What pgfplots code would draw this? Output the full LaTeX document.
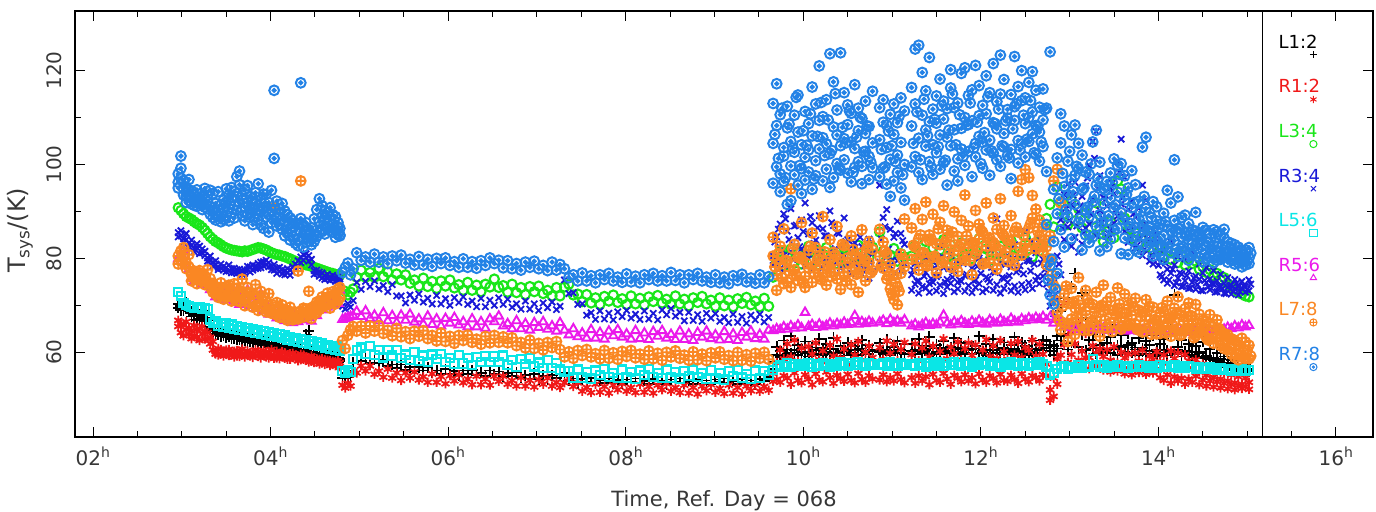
\documentclass[border=0pt]{standalone}
\usepackage{pgfplots}
\pgfplotsset{compat=1.18}
\usepackage{pgfplotstable}
\usepackage{fontspec}
\setmainfont{DejaVu Sans}
\usetikzlibrary{plotmarks}
\definecolor{cK}{RGB}{0,0,0}
\definecolor{cR}{RGB}{240,25,25}
\definecolor{cG}{RGB}{25,230,25}
\definecolor{cB}{RGB}{25,25,215}
\definecolor{cC}{RGB}{10,230,230}
\definecolor{cM}{RGB}{235,25,235}
\definecolor{cO}{RGB}{250,135,35}
\definecolor{cL}{RGB}{35,130,230}
\definecolor{txt}{RGB}{55,55,55}
\pgfdeclareplotmark{odot}{%
  \pgfpathcircle{\pgfpointorigin}{\pgfplotmarksize}\pgfusepathqstroke
  \pgfpathcircle{\pgfpointorigin}{0.3\pgfplotmarksize}\pgfusepathqstroke}
\pgfplotsset{
  sK/.style={only marks, mark=+, color=cK, mark size=5.5pt, mark options={line width=1.8pt}},
  sR/.style={only marks, mark=asterisk, color=cR, mark size=4.6pt, mark options={line width=1.8pt}},
  sG/.style={only marks, mark=o, color=cG, mark size=4.6pt, mark options={line width=2.1pt}},
  sB/.style={only marks, mark=x, color=cB, mark size=4.4pt, mark options={line width=1.8pt}},
  sC/.style={only marks, mark=square, color=cC, mark size=4.1pt, mark options={line width=2.1pt}},
  sM/.style={only marks, mark=triangle, color=cM, mark size=4.9pt, mark options={line width=1.9pt}},
  sO/.style={only marks, mark=oplus, color=cO, mark size=4.9pt, mark options={line width=1.9pt}},
  sL/.style={only marks, mark=odot, color=cL, mark size=4.9pt, mark options={line width=2.0pt}},
}
% noisy parts: t k1 k2 r1 r2 g b1 b2 c m o1 o2 l1 l2 l3
\pgfplotstableread{
t k1 k2 r1 r2 g b1 b2 c m o1 o2 l1 l2 l3
2.96 69.5 70.2 65.5 66.8 90.8 85.5 84.6 72.8 79.9 80.5 78.8 98.0 96.2 95.0
2.99 69.0 69.8 64.2 66.0 90.2 84.8 85.9 72.0 81.0 81.6 79.4 101.8 99.2 97.1
3.02 70.1 68.9 65.8 63.5 89.5 84.2 83.5 70.5 81.7 82.3 80.2 96.5 94.8 93.5
3.05 69.3 70.5 66.5 64.8 88.9 85.3 84.0 70.0 78.4 79.0 77.8 95.2 93.3 91.9
3.08 68.8 69.6 63.8 65.2 88.6 83.2 82.5 69.8 77.6 78.2 80.8 94.6 92.4 96.8
3.11 67.6 68.4 64.6 62.9 88.3 82.8 83.9 69.6 75.9 76.5 75.2 92.9 91.6 94.3
3.14 67.0 67.9 65.7 63.6 87.8 82.0 81.4 69.5 75.2 75.8 77.3 93.5 91.3 92.2
3.17 67.8 66.9 63.2 64.8 87.4 83.1 82.3 69.4 76.3 76.9 74.6 92.2 94.6 91.1
3.20 67.2 68.0 65.0 62.5 87.1 82.6 81.0 69.6 76.8 77.4 75.5 93.7 91.8 92.8
3.23 66.8 67.5 63.9 65.5 86.6 81.2 82.0 69.3 74.5 75.1 76.8 91.5 93.2 90.4
3.26 67.4 66.6 64.5 62.8 86.0 80.6 81.5 69.5 75.6 76.2 74.4 94.9 92.6 90.9
3.29 67.9 66.9 63.0 64.2 85.3 80.1 79.4 69.2 74.2 74.8 77.6 92.1 90.6 93.4
3.32 65.4 64.9 61.8 63.2 84.6 79.6 80.5 67.0 73.3 73.9 75.7 91.0 89.4 94.5
3.35 64.5 64.0 60.5 62.3 84.1 79.2 78.4 66.3 74.0 74.6 72.8 93.8 90.2 88.7
3.38 64.6 63.7 60.2 59.6 83.6 78.6 79.5 66.6 71.8 72.4 74.0 91.7 89.6 88.2
3.41 64.2 63.8 60.8 59.4 83.3 78.1 77.6 65.7 72.9 73.5 71.7 90.3 94.2 88.9
3.44 64.4 63.4 59.7 60.6 82.9 78.8 77.9 66.3 71.4 72.0 74.8 89.5 91.4 87.8
3.47 63.9 63.5 60.3 59.2 82.5 77.5 78.3 65.4 72.6 73.2 71.3 92.4 88.3 90.7
3.50 64.1 63.2 59.5 60.5 82.2 78.0 77.2 66.1 71.2 71.8 73.9 94.8 92.0 89.2
3.53 63.6 63.3 60.6 59.3 82.0 77.3 78.6 65.2 73.7 74.3 72.2 90.6 93.5 88.0
3.56 63.8 62.9 59.4 60.1 81.8 77.8 76.9 65.9 72.1 72.7 70.9 92.9 89.7 95.1
3.59 63.4 63.0 60.2 59.0 81.7 77.0 77.9 65.0 70.9 71.5 74.6 91.3 94.3 88.6
3.62 63.6 62.7 59.2 60.4 81.6 77.6 76.8 65.6 73.0 73.6 71.0 97.4 93.1 90.2
3.65 63.2 62.8 60.0 59.1 81.5 76.9 77.7 64.8 70.2 70.8 73.1 95.7 98.6 91.8
3.68 63.3 62.4 59.6 60.7 81.4 77.4 76.6 65.4 72.3 72.9 75.6 93.4 89.1 92.5
3.71 62.9 62.5 59.0 59.8 81.6 76.8 77.5 64.6 70.6 71.2 69.9 94.7 90.8 88.0
3.74 63.1 62.2 60.3 59.3 81.5 77.6 78.3 65.2 73.2 73.8 71.9 91.9 95.5 89.4
3.77 62.7 62.3 59.2 60.0 81.7 78.2 77.1 64.4 69.9 70.5 72.6 93.2 88.7 90.6
3.80 62.9 62.0 59.7 58.9 81.9 77.5 78.6 65.0 71.7 72.3 69.6 90.4 92.8 87.2
3.83 62.4 62.1 60.5 59.4 82.1 78.4 77.8 64.2 69.3 69.9 74.4 94.0 89.6 91.6
3.86 62.6 61.7 59.1 60.2 82.3 78.9 77.9 64.8 71.0 71.6 68.9 95.9 91.2 88.4
3.89 62.2 61.8 59.6 58.8 82.2 78.0 79.2 63.9 72.4 73.0 70.4 92.5 89.9 87.1
3.92 62.4 61.5 60.4 59.5 82.0 79.3 78.4 64.5 68.8 69.4 71.8 90.9 93.7 86.4
3.95 61.9 61.6 59.0 60.1 81.8 78.6 79.6 63.7 70.2 70.8 68.6 93.6 88.8 91.0
3.98 62.1 61.2 59.8 58.8 81.5 79.1 78.2 64.3 68.1 68.7 72.5 89.4 91.9 85.6
4.01 61.7 61.3 60.6 59.4 81.2 78.3 77.6 63.5 69.6 70.2 68.3 94.5 87.6 90.3
4.04 61.9 61.0 59.3 58.7 81.0 77.5 78.7 64.0 68.4 69.0 90.8 101.3 115.8 89.2
4.07 61.4 61.1 58.8 60.2 80.8 77.9 76.8 63.2 67.3 67.9 70.6 92.2 88.5 86.9
4.10 61.6 60.7 59.6 58.6 80.7 77.2 78.1 63.8 68.9 69.5 67.4 90.6 87.3 89.5
4.13 61.2 60.8 60.1 59.1 80.5 76.7 77.6 63.0 67.6 68.2 70.1 91.7 86.2 88.4
4.16 61.4 60.5 58.7 59.9 80.4 77.4 76.5 63.6 66.7 67.3 69.1 87.9 90.1 84.8
4.19 60.9 60.6 59.5 58.5 80.1 76.9 77.8 62.7 68.3 68.9 66.8 89.3 85.5 87.0
4.22 61.1 60.2 58.5 59.7 79.9 77.5 76.4 63.3 67.0 67.6 69.6 86.4 88.6 83.9
4.25 60.7 60.3 59.8 58.9 79.6 78.2 77.0 62.5 66.3 66.9 68.4 88.1 84.6 86.8
4.28 60.9 60.0 58.6 59.4 79.4 78.8 77.6 63.1 67.9 68.5 67.2 85.9 87.4 83.2
4.31 60.5 60.1 59.2 58.2 79.1 79.5 78.4 62.3 66.5 67.1 77.3 87.2 84.1 82.7
4.34 60.6 59.7 58.4 59.6 78.9 80.3 79.1 62.8 68.2 68.8 96.5 117.4 85.6 88.5
4.37 60.2 59.8 59.4 58.5 78.7 80.8 79.6 62.0 66.9 67.5 69.4 84.3 86.9 82.4
4.40 60.4 63.8 58.3 59.0 78.6 80.2 81.0 62.6 68.6 69.2 67.7 85.8 83.4 87.6
4.43 60.0 64.6 58.9 57.9 78.5 79.4 80.6 61.8 67.4 68.0 73.0 83.7 86.1 84.9
4.46 60.1 59.2 58.1 59.2 78.3 78.6 79.8 62.4 66.6 67.2 69.5 86.5 84.2 82.9
4.49 59.7 59.3 58.8 57.8 78.1 77.4 76.6 61.5 69.2 69.8 68.2 88.4 85.1 83.6
4.52 59.9 59.0 57.9 58.6 77.9 76.8 77.5 62.1 67.8 68.4 70.7 86.0 90.4 84.7
4.55 59.5 59.1 58.5 57.5 77.7 76.2 77.1 61.3 70.3 70.9 69.1 92.7 87.8 85.5
4.58 59.7 58.8 57.7 58.6 77.5 76.9 75.8 61.9 69.0 69.6 71.8 91.2 86.3 89.0
4.61 59.2 58.9 58.4 57.4 77.3 76.3 75.5 61.0 70.7 71.3 70.0 88.6 90.1 85.2
4.64 59.4 58.5 57.6 58.3 77.1 75.7 76.6 61.6 69.6 70.2 72.6 89.7 86.5 87.4
4.67 59.0 58.6 58.2 57.2 76.9 76.1 75.3 60.8 71.3 71.9 69.4 90.8 88.2 85.9
4.70 59.2 58.3 57.4 58.1 76.8 75.5 76.4 61.4 70.1 70.7 72.9 87.1 89.3 85.6
4.73 58.7 58.4 58.0 57.1 76.6 75.9 75.1 60.6 71.8 72.4 70.3 88.9 86.0 84.5
4.76 58.9 58.0 57.3 58.2 76.5 75.2 76.0 61.2 70.4 71.0 73.5 86.7 85.3 87.6
4.78 58.5 58.1 57.8 56.9 76.4 75.6 74.9 60.4 73.2 73.8 71.6 84.8 86.4 85.0
9.66 56.5 58.0 55.5 53.8 76.0 78.5 80.5 56.2 64.6 80.5 84.5 113.0 104.5 96.0
9.70 59.5 61.2 57.8 54.2 79.2 84.6 79.0 56.8 65.0 76.5 73.2 117.2 108.3 99.5
9.74 60.2 59.0 60.5 53.6 81.5 87.3 77.8 57.3 64.8 78.8 82.6 98.0 110.6 94.2
9.78 59.2 62.5 58.6 55.0 78.4 89.5 80.6 57.0 65.4 74.6 86.3 103.6 96.4 101.8
9.82 60.6 59.6 61.8 54.5 80.6 85.8 78.2 57.6 64.9 79.5 75.0 107.8 91.5 112.4
9.86 59.8 63.4 59.0 53.2 82.0 90.6 81.4 56.9 65.6 73.8 94.8 99.7 104.9 92.3
9.90 60.4 59.3 62.6 55.6 79.0 86.9 76.9 57.4 65.1 77.6 83.0 110.5 97.8 102.6
9.94 59.5 61.6 58.1 54.0 81.2 84.4 79.8 57.1 65.8 75.3 80.2 95.6 106.9 114.8
9.98 60.8 60.0 60.9 53.5 78.8 88.2 82.0 57.5 65.2 79.9 87.6 104.2 99.1 93.8
10.02 59.9 62.3 57.6 55.2 80.3 91.8 78.5 57.2 68.5 76.2 73.8 111.3 101.5 96.7
10.06 60.1 59.1 61.2 54.3 82.6 85.2 80.9 57.6 65.5 81.7 77.9 98.4 108.7 103.1
10.10 59.4 61.0 59.6 53.1 79.5 87.6 77.3 56.9 65.9 74.9 85.4 106.1 94.7 116.5
10.14 60.5 60.4 62.0 55.4 81.8 83.9 79.4 57.4 65.3 78.4 82.3 100.8 112.9 97.6
10.18 59.7 62.9 58.4 54.1 78.6 89.1 81.6 57.1 66.0 80.6 76.1 109.4 103.3 121.0
10.22 60.9 59.5 60.3 53.7 80.9 86.3 78.0 57.7 65.4 76.8 88.9 96.5 105.7 110.2
10.26 60.0 61.8 57.9 55.8 82.3 84.8 80.2 57.3 65.7 79.2 74.3 113.8 99.0 104.4
10.30 59.6 60.7 61.5 54.6 79.8 90.1 77.6 57.0 66.2 77.1 84.0 102.3 123.6 95.1
10.34 60.7 63.1 59.2 53.4 81.0 87.0 81.1 57.5 65.6 81.3 79.4 108.0 97.2 117.6
10.38 59.8 59.8 62.8 55.1 78.9 85.5 79.3 57.2 66.1 75.6 86.8 100.2 111.6 106.3
10.42 60.3 61.4 58.8 54.4 80.5 82.7 77.9 57.8 65.8 79.8 73.4 123.8 104.0 98.8
10.46 59.3 60.2 60.7 53.8 82.2 88.6 80.5 57.4 66.4 76.3 82.7 105.5 115.3 101.0
10.50 60.6 62.0 57.4 55.3 79.2 84.0 78.7 57.1 65.9 80.1 77.0 98.1 108.5 112.7
10.54 59.9 59.4 61.6 54.0 81.6 81.6 76.8 57.6 66.3 74.4 84.8 110.9 96.3 104.8
10.58 60.4 61.3 59.4 53.5 80.0 83.3 79.6 57.3 67.8 78.0 80.8 103.4 117.0 99.4
10.62 59.5 60.5 62.3 55.5 82.8 80.2 78.1 57.9 66.0 76.9 72.8 107.2 100.6 112.0
10.66 60.8 62.6 58.3 54.2 79.6 82.5 76.5 57.5 66.5 81.2 86.1 99.6 109.8 95.9
10.70 60.2 59.7 60.0 53.6 81.3 79.4 77.7 57.2 66.1 75.2 79.7 113.5 102.8 106.6
10.74 59.6 61.5 61.3 55.0 80.2 84.1 75.8 57.7 66.6 79.1 83.6 96.8 108.1 101.7
10.78 60.5 60.3 58.9 54.3 82.4 81.0 77.2 57.4 66.2 77.4 81.9 104.6 99.3 115.6
10.86 60.0 61.9 61.0 54.1 85.6 95.6 79.2 57.3 66.4 80.4 86.2 105.3 112.1 97.4
10.90 59.7 60.4 58.5 55.2 81.5 88.7 77.6 57.6 66.8 77.9 83.5 99.2 109.0 113.8
10.94 60.6 62.7 62.4 53.7 79.8 90.4 80.3 57.2 66.1 75.6 81.0 103.6 95.8 108.4
10.98 59.4 60.1 59.8 54.6 80.7 86.2 78.4 57.8 67.0 73.5 78.6 110.7 101.1 93.2
11.02 60.3 61.2 61.7 53.9 82.1 84.5 76.9 57.4 66.3 71.2 76.4 96.5 106.4 112.9
11.06 59.8 62.4 58.2 55.4 79.4 87.9 79.5 57.1 66.7 70.1 74.0 102.0 98.3 108.9
11.10 60.5 59.9 60.6 54.2 81.0 85.3 77.3 57.6 66.2 76.8 80.9 104.7 114.2 95.0
11.14 59.6 61.7 62.1 53.5 80.3 83.0 78.8 57.3 66.9 78.2 88.4 111.4 100.0 92.4
11.22 60.2 61.8 59.5 54.6 80.5 76.5 73.2 57.4 65.6 79.8 86.5 108.2 99.5 116.4
11.26 59.7 60.5 61.8 53.4 82.7 78.9 74.5 57.1 66.0 82.4 90.6 101.7 112.9 124.6
11.30 60.6 62.9 58.2 55.0 79.4 75.2 72.6 57.7 65.4 77.5 84.2 125.4 105.6 98.3
11.34 59.9 60.0 60.9 53.9 81.3 80.4 74.0 57.3 65.9 81.1 88.3 110.5 96.8 119.6
11.38 60.4 61.4 62.4 54.8 83.6 77.0 73.7 57.0 66.3 78.6 92.0 103.9 115.7 107.4
11.42 59.5 63.3 59.0 53.1 80.1 74.6 72.8 57.6 65.7 83.8 85.0 122.8 109.1 100.6
11.46 60.8 59.6 61.3 55.3 82.2 79.3 74.9 57.2 66.1 80.2 89.4 97.9 111.8 104.2
11.50 60.1 61.6 57.8 54.0 79.7 76.1 73.1 57.8 65.8 76.9 83.1 114.6 102.5 108.8
11.54 59.6 60.9 60.2 53.6 81.8 82.6 74.3 57.4 66.4 82.9 87.7 106.3 118.2 99.0
11.58 60.7 62.4 62.9 55.5 84.0 78.0 72.5 57.1 67.9 79.4 91.2 100.4 109.7 113.5
11.62 59.8 60.2 58.6 54.3 80.4 75.5 73.9 57.7 66.2 84.5 86.0 111.9 95.6 105.8
11.66 60.3 61.1 61.1 53.2 82.9 80.9 74.7 57.3 65.8 78.1 82.8 104.0 116.3 120.2
11.70 59.4 63.0 59.7 55.1 79.1 77.4 72.9 57.9 66.5 81.6 89.9 98.6 107.4 112.1
11.74 60.9 60.6 62.2 54.5 81.5 74.9 73.5 57.5 66.0 77.2 84.7 113.1 101.2 96.5
11.78 60.0 61.9 58.4 53.7 83.3 79.7 75.1 57.2 66.7 83.0 88.1 107.7 119.4 103.3
11.82 59.7 59.9 60.8 55.2 80.8 76.3 73.0 57.8 66.2 79.6 93.5 120.6 110.0 99.8
11.86 60.5 62.2 62.0 53.9 82.5 83.5 74.2 57.4 65.9 82.2 86.9 102.8 114.7 108.5
11.90 59.6 60.7 59.3 54.6 79.9 77.9 72.7 57.0 66.6 76.5 83.4 109.3 97.4 115.9
11.94 60.8 61.3 61.6 53.3 81.9 75.4 73.8 57.6 66.1 80.9 90.2 104.5 121.1 101.6
11.98 59.9 63.4 58.0 55.4 84.2 80.1 74.6 57.3 66.8 84.1 87.3 116.8 106.0 110.4
12.02 60.2 60.1 60.5 54.1 80.6 78.5 72.9 57.9 66.3 78.8 85.6 99.2 112.6 104.7
12.06 59.5 61.7 62.7 53.6 82.0 76.0 73.4 57.5 66.0 82.6 91.8 110.8 103.1 118.9
12.10 60.6 60.4 59.1 55.0 79.6 81.8 75.0 57.2 66.9 79.0 84.4 105.2 115.3 97.7
12.14 59.8 62.8 61.4 54.4 83.1 77.2 73.2 57.7 66.4 83.4 88.6 121.5 108.9 102.4
12.18 60.4 61.0 58.7 53.5 80.9 88.4 74.4 57.4 66.2 77.7 86.2 101.0 113.4 107.6
12.22 59.7 59.8 62.5 55.3 82.6 79.0 72.6 57.0 67.0 81.8 92.7 115.0 99.6 123.3
12.26 60.9 62.1 60.1 54.0 79.8 75.7 73.6 57.6 66.5 84.8 87.0 106.6 118.1 103.7
12.30 60.0 60.5 58.5 53.8 81.7 80.6 74.9 57.3 66.3 79.3 83.9 111.7 101.9 109.9
12.34 59.6 61.6 61.9 55.1 83.8 78.2 73.1 57.9 67.2 82.9 89.1 103.2 114.9 97.0
12.38 60.7 63.2 59.4 54.2 80.4 82.9 74.1 57.5 66.6 78.5 85.8 123.0 109.4 112.3
12.42 59.9 60.3 62.3 53.4 82.3 77.6 72.8 57.2 66.4 85.6 94.3 100.3 116.6 105.1
12.46 60.3 62.0 58.9 55.4 81.1 80.2 74.4 57.7 67.1 80.7 96.8 113.6 104.4 120.0
12.50 59.5 61.4 61.0 54.3 84.5 85.7 73.3 57.4 66.7 83.1 98.9 108.7 101.6 114.2
12.54 60.6 59.7 60.4 53.7 82.0 79.4 74.8 57.1 67.3 86.4 97.2 104.9 117.5 110.0
12.58 60.1 62.5 62.6 55.0 80.3 83.6 73.6 57.6 66.9 88.6 93.4 111.2 106.5 119.8
12.62 59.8 60.8 59.2 54.6 83.4 81.2 75.3 57.3 67.4 82.0 90.5 102.1 115.8 108.3
12.66 60.4 61.5 61.7 53.9 81.6 84.2 74.6 57.8 67.0 84.7 88.2 106.9 112.2 100.7
12.70 60.9 62.6 59.6 55.2 82.8 79.8 76.2 57.5 67.6 81.5 86.7 109.5 103.8 116.1
12.74 61.0 62.3 57.5 55.0 88.5 78.0 74.5 57.0 66.8 82.5 78.6 98.5 87.2 112.0
12.78 60.2 61.6 52.0 49.8 91.5 72.4 69.8 55.2 67.5 79.6 84.8 78.5 72.2 124.0
12.82 61.4 59.5 54.5 50.6 86.7 74.8 68.2 55.6 66.2 74.2 96.5 70.3 83.6 94.7
12.86 60.8 63.5 58.6 53.2 95.3 80.5 71.2 56.4 67.0 68.5 99.0 76.8 89.5 101.4
12.90 62.5 68.8 66.8 59.4 92.0 88.2 76.5 56.8 66.4 64.8 91.8 86.1 104.6 110.8
12.94 64.0 71.5 70.5 61.6 89.4 93.6 84.0 57.1 65.6 72.5 66.2 95.3 82.4 108.2
12.98 60.6 66.2 63.4 57.8 87.2 86.7 95.8 56.5 65.9 70.4 62.3 100.7 88.9 93.5
13.02 62.0 74.0 59.5 64.2 92.4 91.4 82.6 56.9 65.3 67.1 73.6 84.2 96.8 106.3
13.06 65.5 76.8 61.8 57.2 88.0 84.5 96.2 56.6 65.0 63.8 69.4 91.5 108.4 97.7
13.10 61.1 70.2 66.1 58.3 90.6 89.9 81.3 57.2 64.8 71.0 75.9 99.1 87.6 104.5
13.14 63.8 72.6 60.2 57.0 86.5 83.1 93.2 56.7 65.2 65.9 68.1 81.8 94.6 102.0
13.18 60.4 67.3 64.0 58.8 89.7 95.4 86.4 57.0 64.9 68.8 73.2 90.3 85.0 98.4
13.22 62.6 65.1 58.9 56.5 84.9 87.3 99.8 56.8 65.1 64.6 70.5 97.9 83.4 88.9
13.26 60.8 63.9 61.4 57.6 88.3 92.6 104.9 58.6 64.7 70.2 66.7 104.8 92.1 84.6
13.30 59.7 66.4 59.8 56.9 91.8 84.9 107.0 57.3 65.0 67.5 72.8 107.3 95.6 86.8
13.34 61.6 62.5 57.4 60.7 86.1 97.6 90.2 56.9 64.8 63.4 69.6 100.5 89.3 81.6
13.38 60.1 64.7 59.1 56.2 83.6 88.4 93.0 57.2 65.1 68.9 74.3 94.9 85.2 91.7
13.42 61.9 60.4 60.6 57.3 85.7 91.1 84.7 56.6 64.6 65.2 70.8 88.0 96.4 82.5
13.46 59.8 63.2 58.3 55.8 87.9 86.2 95.0 57.1 64.9 71.7 66.3 98.2 84.1 92.8
13.50 60.7 65.8 61.2 57.6 84.4 93.8 87.5 56.8 64.7 66.4 69.0 90.6 101.2 86.0
13.54 59.5 61.4 57.7 56.0 96.5 89.0 100.6 57.3 65.0 69.3 73.7 86.4 99.8 94.1
13.58 61.2 63.6 60.0 57.1 94.8 105.4 91.6 56.9 64.8 64.9 67.5 100.2 89.7 81.0
13.62 60.0 59.8 58.8 55.4 88.6 97.2 85.7 57.1 64.5 68.2 72.4 92.5 84.3 97.6
13.66 61.5 64.1 59.6 56.6 86.3 90.4 83.4 56.7 64.8 65.7 70.1 87.6 95.0 80.8
13.70 59.9 62.0 57.3 55.2 84.2 86.7 92.3 57.0 64.6 70.6 67.9 83.9 90.8 98.7
13.74 60.6 61.0 59.9 56.4 85.5 88.8 82.2 56.8 64.9 66.0 71.5 95.7 86.5 81.9
13.78 59.4 63.0 58.1 55.7 83.0 84.3 90.7 57.2 64.5 69.0 64.7 88.4 81.3 92.2
13.82 60.9 60.2 60.4 56.9 86.9 95.6 80.6 56.9 64.7 64.3 68.6 103.7 84.9 87.1
13.86 59.6 62.4 57.8 55.3 82.4 87.4 92.4 57.1 64.4 67.7 71.2 105.8 90.6 82.7
13.90 60.3 61.5 59.2 56.1 84.7 83.1 79.4 56.6 64.8 65.4 69.8 89.8 83.2 86.5
13.94 59.2 63.6 58.5 55.6 81.8 86.0 78.8 57.0 64.6 69.6 66.1 85.7 92.1 80.5
13.98 60.5 59.7 60.1 56.4 83.9 81.4 84.9 56.7 64.3 66.8 63.9 82.6 88.0 91.0
14.02 59.8 61.8 58.0 54.6 82.4 79.2 76.5 57.2 64.7 64.0 68.4 87.3 80.9 84.2
14.06 60.6 62.9 59.4 54.0 80.3 81.8 75.4 56.8 64.4 68.7 65.6 84.8 89.6 79.8
14.10 59.3 60.4 57.6 55.2 81.6 77.7 74.7 57.1 64.6 66.2 70.9 94.5 82.4 86.9
14.14 60.0 64.9 60.3 53.4 79.8 83.5 76.9 56.9 64.3 63.4 67.2 91.8 85.9 81.2
14.18 59.6 72.2 58.7 54.8 81.0 78.6 74.2 57.2 64.7 69.4 64.5 101.0 83.8 88.1
14.22 60.4 61.2 59.9 53.9 79.1 80.4 75.8 56.7 64.4 65.1 71.8 86.4 93.1 80.4
14.26 59.1 62.6 57.2 54.5 80.7 76.7 74.0 57.0 64.6 67.9 63.7 82.1 88.7 84.6
14.30 60.2 60.1 59.5 53.2 78.6 79.9 75.2 56.6 64.2 64.6 69.3 89.2 81.5 85.4
14.34 59.5 61.7 58.2 54.3 80.0 77.3 73.6 57.1 64.5 70.5 66.0 84.0 87.4 79.6
14.38 60.1 59.4 56.6 53.6 78.9 81.2 74.9 56.8 64.3 65.8 67.7 80.7 86.1 83.0
14.42 59.0 61.3 58.4 54.9 79.4 76.2 73.4 56.5 64.6 63.5 70.2 89.8 82.7 85.8
14.46 59.8 60.0 55.8 53.1 77.7 78.8 75.6 56.9 64.4 68.1 64.2 85.3 80.2 83.9
14.50 58.7 62.2 57.5 54.1 78.2 76.9 73.1 56.6 64.7 64.9 66.8 81.9 86.6 79.3
14.54 59.3 59.2 55.1 52.8 77.0 78.0 74.8 56.4 64.3 66.6 63.1 83.6 79.9 86.0
14.58 58.5 60.7 56.8 53.9 77.6 75.6 73.3 56.8 64.6 62.8 68.0 80.4 85.2 82.0
14.62 58.9 58.4 54.7 52.6 76.3 77.4 74.5 56.5 64.4 65.5 61.9 86.1 82.8 79.1
14.66 58.2 59.9 56.0 53.7 76.8 75.2 72.9 56.3 64.8 63.2 66.9 82.5 79.6 85.7
14.70 57.8 58.6 54.3 52.4 75.5 76.6 74.2 56.7 64.5 61.4 64.6 79.8 84.9 81.4
14.74 57.4 59.1 55.6 53.4 75.9 74.7 72.6 56.2 64.9 64.0 60.8 84.3 81.1 86.2
14.78 56.9 57.7 53.9 52.2 74.6 75.9 73.8 56.5 65.3 60.5 63.7 81.0 79.2 83.5
14.82 56.5 58.3 55.2 53.1 74.1 74.3 72.4 56.1 65.0 62.9 59.6 83.2 80.5 79.7
14.86 56.1 57.0 53.5 52.0 73.4 75.5 73.5 56.4 65.6 58.9 62.4 80.6 82.9 78.8
14.90 55.8 57.6 54.8 52.9 72.8 73.9 72.2 56.0 65.2 61.6 58.4 82.4 79.0 80.9
14.94 56.2 56.7 53.2 52.3 72.4 75.1 73.7 56.3 65.8 59.3 63.0 79.5 81.7 78.2
14.98 55.7 57.3 54.5 52.7 72.0 74.0 72.8 56.1 65.4 62.2 58.7 81.8 78.6 80.3
15.02 56.0 56.4 53.6 52.1 71.8 75.4 73.1 56.2 65.7 58.6 61.5 80.1 82.3 78.9
}\noisy
% extra scatter of the noisy afternoon: t o3 b3 l4
\pgfplotstableread{
t o3 b3 l4
9.68 78.2 83.5 106.4
9.72 81.0 86.2 101.3
9.76 75.9 81.7 112.0
9.80 79.6 88.4 97.2
9.84 77.3 84.0 108.6
9.88 82.1 79.8 103.5
9.92 76.4 87.1 114.3
9.96 80.3 82.5 99.8
10.00 74.8 85.7 107.2
10.04 78.9 80.6 104.1
10.08 82.6 88.9 110.8
10.12 77.0 83.2 96.9
10.16 79.8 86.5 106.0
10.20 75.5 81.0 113.2
10.24 81.4 84.8 101.9
10.28 78.3 79.3 109.5
10.32 76.1 87.6 103.0
10.36 80.7 82.1 115.1
10.40 77.8 85.3 99.1
10.44 83.0 80.0 107.9
10.48 75.2 83.6 104.6
10.52 79.1 78.7 111.4
10.56 81.9 82.9 98.3
10.60 76.6 80.2 105.8
10.64 80.0 84.5 110.1
10.68 78.5 77.9 102.7
10.72 82.4 81.4 108.2
10.76 76.9 79.1 100.5
10.88 78.6 84.1 103.2
10.92 81.5 86.7 99.5
10.96 76.2 82.0 107.1
11.00 72.4 79.6 104.0
11.04 74.8 85.3 100.6
11.08 73.0 81.2 110.3
11.12 79.9 83.8 97.8
11.24 82.8 77.5 104.5
11.28 79.9 75.1 111.2
11.32 85.0 78.6 101.0
11.36 81.2 76.2 113.9
11.40 78.4 79.8 106.1
11.44 84.1 75.7 99.4
11.48 80.5 78.0 109.6
11.52 86.3 76.5 103.8
11.56 79.0 80.4 112.5
11.60 83.4 74.9 100.9
11.64 81.0 77.8 107.3
11.68 85.6 76.0 115.0
11.72 78.8 79.3 104.2
11.76 82.5 75.4 110.6
11.80 80.2 78.9 101.7
11.84 84.8 76.6 108.4
11.88 79.5 80.7 113.1
11.92 83.0 75.2 103.5
11.96 81.6 78.3 109.0
12.00 86.0 76.8 100.2
12.04 78.9 79.5 106.8
12.08 84.2 75.6 114.4
12.12 80.8 78.1 102.9
12.16 82.9 77.0 108.7
12.20 79.7 80.9 111.8
12.24 85.3 75.9 104.0
12.28 81.4 78.7 109.3
12.32 83.8 76.3 101.4
12.36 80.1 79.9 107.6
12.40 86.6 77.1 112.9
12.44 82.3 78.4 103.1
12.48 84.9 76.7 110.5
12.52 81.7 79.6 105.4
12.56 87.4 77.3 113.6
12.60 83.2 78.8 102.5
12.64 85.8 76.1 108.1
12.68 82.6 79.0 104.8
12.72 84.0 77.6 111.7
12.76 80.0 73.0 75.4
12.80 76.5 70.6 79.8
12.84 71.0 72.4 73.5
12.88 66.9 78.8 92.7
12.92 69.8 86.4 98.1
12.96 74.1 90.7 90.4
13.00 66.0 88.1 102.8
13.04 70.7 93.5 94.2
13.08 67.3 86.9 99.6
13.12 69.4 91.2 88.5
13.16 64.7 85.6 95.0
13.20 71.2 97.1 90.9
13.24 66.5 89.4 100.1
13.28 68.6 101.3 93.3
13.32 65.3 94.8 97.0
13.36 70.0 87.6 87.6
13.40 66.8 92.5 94.5
13.44 69.1 85.2 89.1
13.48 64.4 96.0 96.2
13.52 67.9 90.3 91.4
13.56 70.3 98.4 97.9
13.60 65.6 93.0 88.3
13.64 68.4 87.9 93.6
13.68 66.1 84.6 86.7
13.72 69.7 89.5 91.8
13.76 64.9 82.8 84.6
13.80 67.6 86.2 89.9
13.84 65.9 81.9 93.2
13.88 68.9 84.1 86.0
13.92 63.8 80.6 88.7
13.96 67.0 83.3 84.1
14.00 65.2 78.5 86.6
14.04 69.5 76.1 82.7
14.08 64.1 79.0 87.9
14.12 67.4 75.4 83.3
14.16 65.7 77.7 85.5
14.20 68.2 74.8 81.9
14.24 63.6 76.9 86.3
14.28 66.6 74.1 82.4
14.32 64.8 76.3 84.8
14.36 67.8 73.7 81.0
14.40 63.1 75.8 85.1
14.44 66.0 74.4 82.2
14.48 64.4 73.2 84.0
14.52 65.9 75.3 80.8
14.56 62.6 73.9 83.4
14.60 64.7 74.6 81.5
14.64 63.0 72.8 84.4
14.68 65.1 74.0 80.3
14.72 61.8 73.5 82.8
14.76 63.4 72.5 80.9
14.80 60.9 74.2 82.0
14.84 62.7 73.0 79.6
14.88 59.6 74.7 81.3
14.92 61.3 72.9 79.9
14.96 58.8 74.1 80.7
15.00 60.4 73.4 79.4
15.04 59.2 74.5 81.1
}\extra
% smooth parts: t k r g b c m o l
\pgfplotstableread{
t k r g b c m o l
4.81 54.6 53.0 72.5 69.8 56.0 67.0 62.5 77.0
4.84 54.4 52.4 73.0 69.2 55.6 67.2 60.8 78.0
4.87 54.8 53.4 72.2 70.4 56.2 67.4 63.6 79.0
4.90 55.0 52.8 72.8 69.6 55.8 67.6 64.8 76.5
4.93 57.8 55.5 73.5 71.0 58.5 67.8 65.5 77.8
4.97 59.4 55.6 76.0 74.9 60.4 68.7 64.5 81.2
5.02 58.2 57.1 77.5 73.4 61.0 67.6 65.6 79.6
5.07 58.7 56.0 76.0 75.1 59.7 68.8 64.1 80.3
5.12 57.7 57.1 77.0 74.0 61.3 67.2 65.6 79.2
5.17 58.5 55.3 76.0 75.2 59.4 67.9 64.5 80.9
5.22 57.7 56.0 77.9 73.5 60.5 66.7 65.7 79.2
5.27 58.3 54.7 76.1 74.2 58.9 68.4 64.0 80.3
5.32 57.1 56.4 77.1 72.9 60.5 66.7 64.7 78.9
5.37 57.4 54.5 75.4 74.4 59.3 67.8 63.5 80.5
5.42 56.6 55.6 76.7 72.0 60.5 66.3 65.1 79.5
5.47 57.4 54.0 75.4 72.0 58.8 67.9 63.3 80.7
5.52 56.3 55.6 76.5 70.5 59.5 66.8 64.4 79.0
5.57 56.8 54.5 74.7 72.2 58.3 68.1 62.9 79.8
5.62 55.9 55.8 75.4 71.1 60.0 66.4 64.5 78.6
5.67 56.8 54.1 74.1 72.4 58.2 67.1 63.4 80.4
5.72 56.1 54.8 75.8 70.7 59.3 66.0 64.6 78.6
5.77 56.8 53.6 74.0 71.5 57.9 67.7 62.9 79.8
5.82 55.7 55.4 75.1 70.3 59.5 65.9 63.6 78.3
5.87 56.1 53.6 73.6 72.1 58.5 67.1 62.4 80.0
5.92 55.4 54.8 75.2 70.3 59.7 65.6 64.1 78.9
5.97 56.4 53.3 74.1 71.4 58.0 67.2 62.3 80.1
6.02 55.3 55.0 75.4 70.0 58.8 66.2 63.4 78.5
6.07 56.0 53.9 73.7 71.6 57.6 67.4 61.9 79.3
6.12 55.1 55.2 74.4 70.6 59.4 65.8 63.6 78.1
6.17 56.1 53.5 73.2 71.8 57.6 66.5 62.5 79.9
6.22 55.4 54.3 74.9 70.2 58.8 65.4 63.7 78.1
6.27 56.2 53.1 73.2 70.9 57.3 67.1 62.1 79.3
6.32 55.1 54.9 74.3 69.7 59.0 65.4 62.8 77.9
6.37 55.6 53.1 72.9 71.5 58.0 66.5 61.7 79.5
6.42 54.9 54.3 74.5 69.7 59.2 65.1 63.4 78.5
6.47 56.1 53.0 73.9 71.1 57.9 67.1 62.0 80.1
6.52 55.3 54.9 75.6 70.0 59.1 66.5 63.6 78.9
6.57 55.9 53.8 73.8 71.6 57.9 67.7 62.1 79.6
6.62 54.8 54.9 74.2 70.2 59.3 65.6 63.3 78.0
6.67 55.6 53.2 72.8 71.3 57.3 66.1 62.0 79.5
6.72 54.9 54.0 74.5 69.6 58.4 65.0 63.1 77.8
6.77 55.7 52.8 72.7 70.3 56.9 66.7 61.4 78.9
6.82 54.6 54.6 73.8 69.2 58.5 65.0 62.1 77.5
6.87 55.1 52.8 72.3 70.9 57.5 66.1 60.9 79.2
6.92 54.4 54.0 74.0 69.2 58.7 64.7 62.6 78.1
6.97 55.4 52.6 72.9 70.3 57.0 66.3 60.8 79.4
7.02 54.3 54.2 74.1 68.9 57.8 65.3 61.9 77.8
7.07 55.0 53.2 72.5 70.5 56.6 66.5 60.5 78.5
7.12 54.2 54.5 73.2 69.5 58.3 64.9 62.1 77.4
7.17 55.1 52.8 72.0 70.7 56.6 65.6 61.0 79.2
7.22 54.5 53.6 73.8 69.1 57.7 64.5 62.3 77.5
7.26 55.3 52.5 72.0 69.8 56.3 66.3 60.6 78.7
7.31 55.5 53.5 73.9 75.4 55.9 64.7 59.0 77.8
7.36 54.0 54.5 74.5 72.5 56.0 63.7 60.1 75.9
7.41 54.4 52.7 72.2 72.7 54.6 65.0 58.7 76.5
7.46 53.4 53.5 72.4 70.2 56.3 63.3 60.4 75.2
7.51 54.3 51.7 70.8 70.3 54.6 64.1 59.3 76.9
7.56 53.7 52.5 72.3 67.9 55.8 63.0 60.6 75.2
7.61 54.5 51.4 70.5 68.4 54.4 64.8 59.0 76.3
7.66 53.5 53.2 71.6 67.0 56.1 63.0 59.7 74.8
7.71 54.0 51.5 70.2 68.8 55.1 64.2 58.6 76.5
7.76 53.4 52.7 71.9 67.1 56.4 62.8 60.4 75.5
7.81 54.4 51.3 70.9 68.3 54.8 64.5 58.7 76.8
7.86 53.4 53.0 72.2 66.9 55.6 63.5 59.9 75.2
7.91 54.1 52.0 70.6 68.6 54.5 64.8 58.5 76.0
7.96 53.3 53.3 71.4 67.6 56.3 63.2 60.2 74.9
8.01 54.2 51.7 70.2 68.9 54.6 63.9 59.1 76.7
8.06 53.6 52.5 72.0 67.3 55.8 62.8 60.4 75.0
8.11 54.4 51.4 70.3 68.1 54.4 64.6 58.8 76.2
8.16 53.4 53.2 71.5 67.0 56.1 62.9 59.6 74.8
8.21 53.9 51.5 70.1 68.8 55.1 64.1 58.5 76.5
8.26 53.3 52.7 71.8 67.1 56.4 62.7 60.3 75.5
8.31 54.3 51.3 70.8 68.3 54.8 64.4 58.6 76.8
8.36 53.3 53.0 72.1 66.9 55.6 63.4 59.8 75.2
8.41 54.0 52.0 70.5 69.0 54.5 64.6 58.3 76.3
8.46 53.2 53.3 71.3 68.0 56.3 63.0 60.0 75.2
8.51 54.2 51.7 70.2 69.3 54.6 63.8 59.0 77.0
8.56 53.6 52.5 72.0 67.7 55.8 62.7 60.3 75.3
8.61 54.4 51.4 70.3 68.5 54.4 64.5 58.7 76.5
8.66 53.4 53.0 71.3 66.7 56.0 62.7 59.4 74.8
8.71 53.9 51.3 69.9 68.5 55.0 63.9 58.3 76.5
8.76 53.3 52.5 71.6 66.8 56.3 62.5 60.1 75.5
8.81 54.3 51.1 70.6 68.0 54.7 64.2 58.4 76.8
8.86 53.3 52.8 71.9 66.6 55.5 63.2 59.6 75.2
8.91 54.0 51.8 70.3 68.3 54.4 64.5 58.2 76.0
8.96 53.2 53.1 71.1 67.3 56.2 62.9 59.9 74.9
9.01 54.2 51.5 69.8 68.2 54.4 63.7 58.8 76.5
9.06 53.6 52.3 71.6 66.6 55.6 62.6 60.1 74.8
9.11 54.4 51.2 69.9 67.4 54.2 64.4 58.5 76.0
9.16 53.4 53.0 71.1 66.3 55.9 62.7 59.3 74.6
9.21 53.9 51.3 69.7 68.1 54.9 63.9 58.2 76.3
9.26 53.3 52.5 71.4 66.4 56.2 62.5 60.0 75.3
9.31 54.3 51.1 70.4 67.6 54.6 64.2 58.3 76.6
9.36 53.3 52.8 71.7 66.2 55.4 63.2 59.5 75.0
9.41 54.0 51.8 70.1 67.9 54.3 64.5 58.1 75.8
9.46 53.2 53.1 70.9 66.9 56.1 62.9 59.8 74.7
9.51 54.3 51.7 69.7 68.1 54.5 63.8 58.7 76.5
9.56 53.8 52.7 71.5 66.5 56.0 62.8 60.0 74.8
9.61 54.8 51.9 69.8 67.4 55.2 64.7 58.5 76.1
}\smooth
\begin{document}
\begin{tikzpicture}
\begin{axis}[
  at={(0,0)}, anchor=south west,
  scale only axis, width=1298pt, height=426pt,
  xmin=1.797, xmax=16.417, ymin=41.95, ymax=132.7,
  xtick={2,4,6,8,10,12,14,16},
  xticklabels={02\textsuperscript{h},04\textsuperscript{h},06\textsuperscript{h},08\textsuperscript{h},10\textsuperscript{h},12\textsuperscript{h},14\textsuperscript{h},16\textsuperscript{h}},
  minor x tick num=3,
  ytick={60,80,100,120}, minor y tick num=1,
  tick align=inside, major tick length=10pt, minor tick length=6pt,
  every tick/.append style={black, line width=1pt},
  axis line style={black, line width=1.1pt},
  tick label style={font=\fontsize{20}{24}\selectfont, text=txt},
  xticklabel style={anchor=north, inner sep=0pt}, xticklabel shift=10pt,
  yticklabel style={rotate=90, anchor=south, inner sep=0pt}, yticklabel shift=13pt,
  /pgf/number format/assume math mode=true,
  xlabel={Time, Ref. Day = 068},
  xlabel style={font=\fontsize{21}{24}\selectfont, text=txt, at={(axis description cs:0.5,0)}, anchor=north, inner sep=0pt, yshift=-53pt},
  ylabel={T\textsubscript{sys}/(K)},
  ylabel style={font=\fontsize{24}{28}\selectfont, text=txt, at={(axis description cs:-0.0324,0.485)}, anchor=south, inner sep=0pt},
  legend style={at={(0.9245,0.948)}, anchor=north west, draw=none, fill=none,
    font=\fontsize{18}{20}\selectfont, row sep=31.6pt,
    nodes={inner sep=0pt, text height=13pt, text depth=0pt}},
  legend cell align=left,
  legend image code/.code={\path (0pt,0pt); \draw[#1,overlay,mark size=3.6pt,mark options={line width=1pt}] plot coordinates {(35pt,-13pt)};},
]
\addplot[sK] table[x=t,y=k]{\smooth}; \addlegendentry{\textcolor{cK}{L1:2}}
\addplot[sK,forget plot] table[x=t,y=k1]{\noisy};
\addplot[sK,forget plot] table[x=t,y=k2]{\noisy};
\addplot[sR] table[x=t,y=r]{\smooth}; \addlegendentry{\textcolor{cR}{R1:2}}
\addplot[sR,forget plot] table[x=t,y=r1]{\noisy};
\addplot[sR,forget plot] table[x=t,y=r2]{\noisy};
\addplot[sG] table[x=t,y=g]{\smooth}; \addlegendentry{\textcolor{cG}{L3:4}}
\addplot[sG,forget plot] table[x=t,y=g]{\noisy};
\addplot[sB] table[x=t,y=b]{\smooth}; \addlegendentry{\textcolor{cB}{R3:4}}
\addplot[sB,forget plot] table[x=t,y=b1]{\noisy};
\addplot[sB,forget plot] table[x=t,y=b2]{\noisy};
\addplot[sB,forget plot] table[x=t,y=b3]{\extra};
\addplot[sC] table[x=t,y=c]{\smooth}; \addlegendentry{\textcolor{cC}{L5:6}}
\addplot[sC,forget plot] table[x=t,y=c]{\noisy};
\addplot[sM] table[x=t,y=m]{\smooth}; \addlegendentry{\textcolor{cM}{R5:6}}
\addplot[sM,forget plot] table[x=t,y=m]{\noisy};
\addplot[sO] table[x=t,y=o]{\smooth}; \addlegendentry{\textcolor{cO}{L7:8}}
\addplot[sO,forget plot] table[x=t,y=o1]{\noisy};
\addplot[sO,forget plot] table[x=t,y=o2]{\noisy};
\addplot[sO,forget plot] table[x=t,y=o3]{\extra};
\addplot[sL] table[x=t,y=l]{\smooth}; \addlegendentry{\textcolor{cL}{R7:8}}
\addplot[sL,forget plot] table[x=t,y=l1]{\noisy};
\addplot[sL,forget plot] table[x=t,y=l2]{\noisy};
\addplot[sL,forget plot] table[x=t,y=l3]{\noisy};
\addplot[sL,forget plot] table[x=t,y=l4]{\extra};
\draw[black, line width=1.1pt] (axis cs:15.177,41.95) -- (axis cs:15.177,132.7);
\coordinate (SW) at (rel axis cs:0,0);
\coordinate (NE) at (rel axis cs:1,1);
\end{axis}
\pgfresetboundingbox
\path[use as bounding box] ([shift={(-75pt,-74pt)}]SW) rectangle ([shift={(3pt,11pt)}]NE);
\end{tikzpicture}
\end{document}
